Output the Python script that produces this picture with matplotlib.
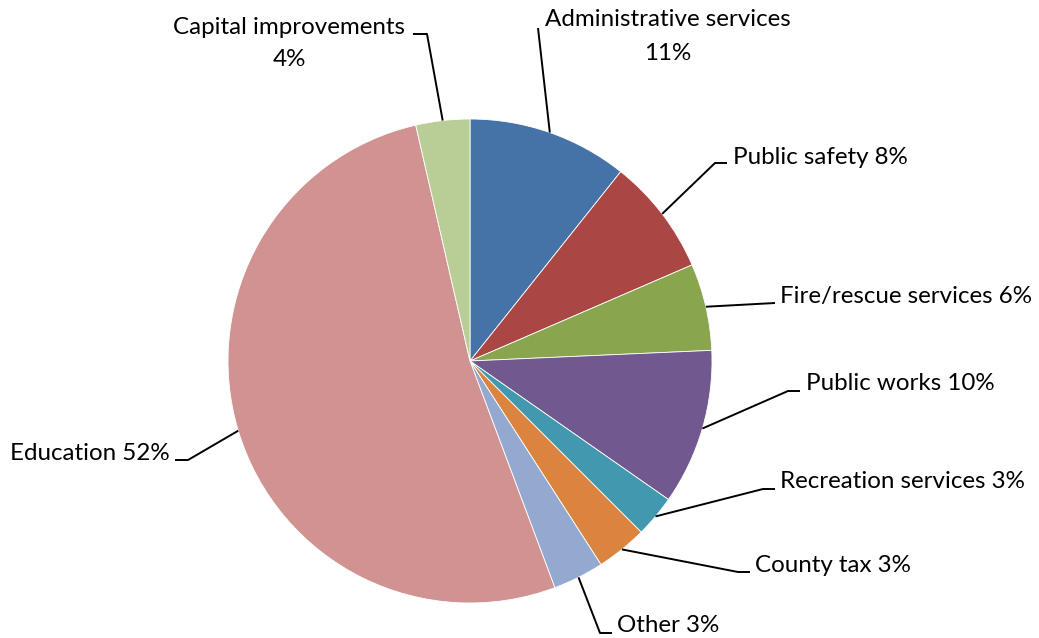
import numpy as np
import matplotlib
matplotlib.use("Agg")
import matplotlib.pyplot as plt

# ---- data ----
categories = ["Administrative services", "Public safety", "Fire/rescue services",
              "Public works", "Recreation services", "County tax", "Other",
              "Education", "Capital improvements"]
values = [10.7, 7.8, 5.8, 10.4, 2.8, 3.4, 3.4, 52.1, 3.6]
colors = ["#4572A7", "#AA4643", "#89A54E", "#71588F", "#4198AF",
          "#DB843D", "#93A9CF", "#D19392", "#B9CD96"]

W, H = 1039, 638
fig = plt.figure(figsize=(W / 100, H / 100), dpi=100)
ax = fig.add_axes([0, 0, 1, 1])
ax.set_xlim(0, W)
ax.set_ylim(0, H)
ax.set_aspect("equal")
ax.axis("off")

def Y(p):
    return H - p

cx, cy, R = 470, Y(361), 242
wedges, _ = ax.pie(values, colors=colors, startangle=90, counterclock=False,
                   center=(cx, cy), radius=R,
                   wedgeprops=dict(edgecolor="white", linewidth=0.6))
ax.set_xlim(0, W)
ax.set_ylim(0, H)

FONT = ["Lato", "DejaVu Sans"]
FS = 17.4

# layout: text x, text y, alignment, leader elbow points in pixels
layout = {
    "Administrative services": dict(x=668, y=20, ha="center", two=True,
                                    pts=[(538, 28)]),
    "Public safety": dict(x=733, y=157, ha="left", pts=[(727, 163), (715, 163)]),
    "Fire/rescue services": dict(x=780, y=297, ha="left", pts=[(775, 303)]),
    "Public works": dict(x=806, y=383, ha="left", pts=[(800, 391), (788, 391)]),
    "Recreation services": dict(x=780, y=481, ha="left", pts=[(775, 489), (763, 489)]),
    "County tax": dict(x=755, y=565, ha="left", pts=[(750, 572), (738, 572)]),
    "Other": dict(x=617, y=626, ha="left", pts=[(612, 633), (600, 633)]),
    "Education": dict(x=170, y=453, ha="right", pts=[(175, 460), (188, 460)]),
    "Capital improvements": dict(x=289, y=27, ha="center", two=True,
                                 pts=[(413, 34), (427, 34)]),
}

for w, cat, v in zip(wedges, categories, values):
    L = layout[cat]
    pct = f"{round(v):d}%"
    if L.get("two"):
        ax.text(L["x"], Y(L["y"]), cat, ha="center", va="center",
                fontsize=FS, family=FONT, color="black")
        ax.text(L["x"], Y(L["y"] + 33), pct, ha="center", va="center",
                fontsize=FS, family=FONT, color="black")
    else:
        ax.text(L["x"], Y(L["y"]), f"{cat} {pct}", ha=L["ha"], va="center",
                fontsize=FS, family=FONT, color="black")
    mid = np.deg2rad((w.theta1 + w.theta2) / 2)
    ex, ey = cx + R * np.cos(mid), cy + R * np.sin(mid)
    xs = [p[0] for p in L["pts"]] + [ex]
    ys = [Y(p[1]) for p in L["pts"]] + [ey]
    ax.plot(xs, ys, color="black", lw=1.4, solid_capstyle="butt")

fig.savefig("out.png", dpi=100, facecolor="white")
